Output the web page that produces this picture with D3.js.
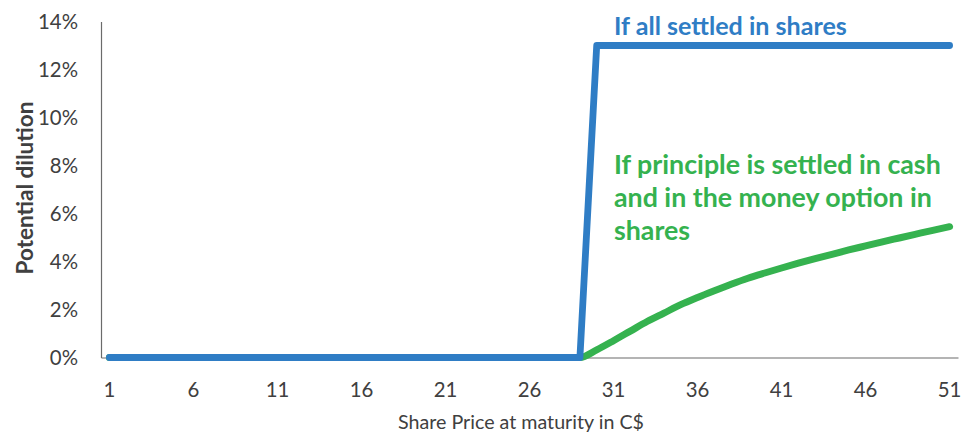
<!DOCTYPE html>
<html>
<head>
<meta charset="utf-8">
<script src="https://cdn.jsdelivr.net/npm/d3@7"></script>
<style>
  html, body { margin: 0; padding: 0; background: #ffffff; }
  svg { display: block; font-family: Lato, "Open Sans", sans-serif; }
</style>
</head>
<body>
<svg id="chart" width="965" height="432"></svg>
<script>
// ---- data ----
const prices = d3.range(1, 52); // share price categories 1..51
const xTickLabels = [1, 6, 11, 16, 21, 26, 31, 36, 41, 46, 51];
const yTickValues = [0, 0.02, 0.04, 0.06, 0.08, 0.10, 0.12, 0.14];

// If all settled in shares
const allSharesValues = [
  0,0,0,0,0,0,0,0,0,0,           // 1-10
  0,0,0,0,0,0,0,0,0,0,           // 11-20
  0,0,0,0,0,0,0,0,0,             // 21-29
  0.13,0.13,0.13,0.13,0.13,0.13,0.13,0.13,0.13,0.13,0.13, // 30-40
  0.13,0.13,0.13,0.13,0.13,0.13,0.13,0.13,0.13,0.13,0.13  // 41-51
];
// If principle settled in cash, in-the-money option in shares
const cashPrincipleValues = [
  0,0,0,0,0,0,0,0,0,0,
  0,0,0,0,0,0,0,0,0,0,
  0,0,0,0,0,0,0,0,0,                        // 1-29
  0.0032,0.007,0.011,0.015,0.0185,0.022,0.025,0.0278,0.0305,0.033,0.0352, // 30-40
  0.0373,0.0393,0.0412,0.043,0.0448,0.0465,0.0482,0.0498,0.0514,0.053,0.0545  // 41-51
];

const yTitle = "Potential dilution";
const xTitle = "Share Price at maturity in C$";
const blueLabel = ["If all settled in shares"];
const greenLabel = ["If principle is settled in cash", "and in the money option in", "shares"];

// ---- layout ----
const BLUE = "#2f7dc5";
const GREEN = "#35b24f";
const TXT = "#404040";
const svg = d3.select("#chart");

const x = d3.scaleBand().domain(prices).range([101, 958]).padding(0);
const cx = d => x(d) + x.bandwidth() / 2;
const y = d3.scaleLinear().domain([0, 0.14]).range([357.5, 21.5]);

function fit(sel, target) {
  const w = sel.node().getComputedTextLength();
  const fs = parseFloat(sel.attr("font-size"));
  const nf = fs * target / w;
  sel.attr("font-size", nf);
  return nf;
}

// measure tick font size
const probe = svg.append("text").attr("font-size", 20).text("14%");
const tickFs = fit(probe, 40);
probe.remove();

// y axis
const yAxis = d3.axisLeft(y).tickValues(yTickValues).tickFormat(d3.format(".0%"))
  .tickSize(0).tickPadding(23).tickSizeOuter(0);
const gy = svg.append("g").attr("transform", "translate(101,0)").call(yAxis);
gy.select(".domain").attr("stroke", "#6b6b6b").attr("stroke-width", 1.2);
gy.selectAll("text").attr("font-size", tickFs).attr("fill", TXT).attr("font-family", "Lato, sans-serif");

// x axis
const xAxis = d3.axisBottom(x).tickValues(xTickLabels).tickSize(0).tickSizeOuter(0);
const gx = svg.append("g").attr("transform", `translate(0,${y(0)})`).call(xAxis);
gx.select(".domain").attr("stroke", "#6b6b6b").attr("stroke-width", 1.2);
gx.selectAll("text").attr("font-size", tickFs).attr("fill", TXT)
  .attr("font-family", "Lato, sans-serif").attr("dy", 0).attr("y", 39);

// lines
const lineSmooth = d3.line().x((d, i) => cx(prices[i])).y(d => y(d)).curve(d3.curveMonotoneX);
const line = d3.line().x((d, i) => cx(prices[i])).y(d => y(d));
svg.append("path").datum(cashPrincipleValues)
  .attr("d", lineSmooth).attr("fill", "none").attr("stroke", GREEN)
  .attr("stroke-width", 7).attr("stroke-linejoin", "round").attr("stroke-linecap", "round");
svg.append("path").datum(allSharesValues)
  .attr("d", line).attr("fill", "none").attr("stroke", BLUE)
  .attr("stroke-width", 6.8).attr("stroke-linejoin", "round").attr("stroke-linecap", "round");

// axis titles
const yt = svg.append("text").attr("font-size", 20).attr("font-weight", 700).attr("fill", TXT)
  .attr("text-anchor", "middle").attr("transform", "translate(33,188) rotate(-90)").text(yTitle);
fit(yt, 173);
const xt = svg.append("text").attr("font-size", 16).attr("fill", TXT)
  .attr("text-anchor", "middle").attr("x", 521).attr("y", 429).text(xTitle);
fit(xt, 246);

// annotations
const bt = svg.append("text").attr("font-size", 22).attr("font-weight", 700).attr("fill", BLUE)
  .attr("x", 614).attr("y", 34.5).text(blueLabel[0]);
fit(bt, 233);

const gBase = [174, 207, 240];
const g1 = svg.append("text").attr("font-size", 22).attr("font-weight", 700).attr("fill", GREEN)
  .attr("x", 614).attr("y", gBase[0]).text(greenLabel[0]);
const gfs = fit(g1, 327);
greenLabel.slice(1).forEach((t, i) => {
  svg.append("text").attr("font-size", gfs).attr("font-weight", 700).attr("fill", GREEN)
    .attr("x", 614).attr("y", gBase[i + 1]).text(t);
});
</script>
</body>
</html>
